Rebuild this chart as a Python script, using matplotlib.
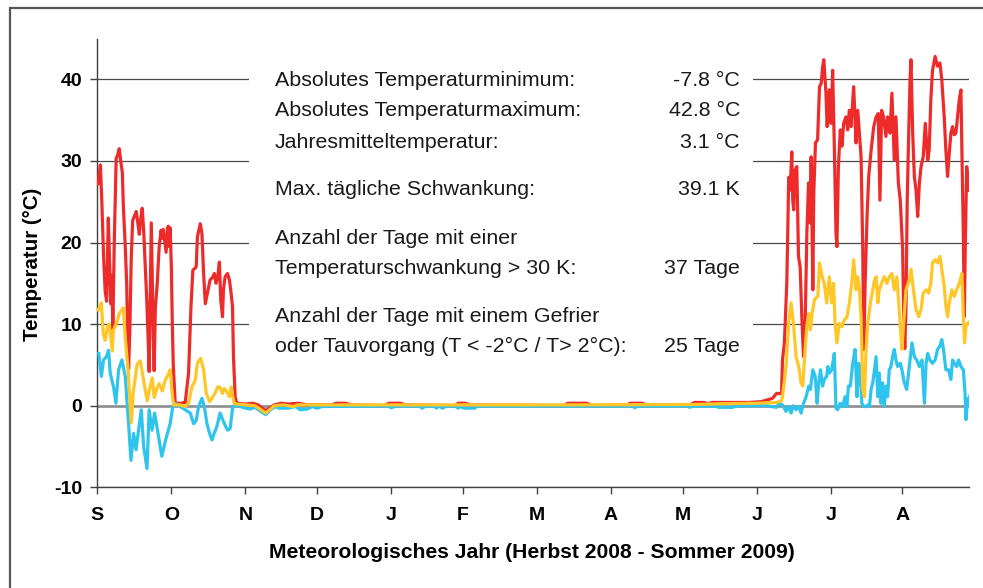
import matplotlib
matplotlib.use("Agg")
import matplotlib.pyplot as plt
from matplotlib.patches import Rectangle

plt.rcParams['font.family'] = ['Liberation Sans', 'DejaVu Sans']

# ---------------- data (day of meteorological year, 0 = 1 Sept 2008) ----------------
red_days = [0.3, 1.3, 1.9, 2.6, 3.3, 3.9, 4.6, 5.2, 5.6, 6.1, 6.5, 7.1, 7.5, 7.9, 8.6, 9.2, 9.8, 10.5, 10.9,
            11.7, 12.3, 12.7, 13.1, 13.6, 14.2, 14.8, 15.5, 16.3, 16.9, 17.6, 18.0, 18.8, 19.4, 20.1, 20.7,
            21.3, 21.7, 22.1, 22.6, 23.0, 23.4, 23.8, 24.3, 25.1, 25.9, 26.7, 27.2, 27.6, 28.4, 28.8, 29.3,
            29.7, 30.1, 30.5, 31.0, 31.4, 31.8, 32.6,
            35.0, 36.8, 38.2, 39.2, 40.0, 41.4, 41.9, 43.1, 43.8, 44.5, 45.2, 46.1, 47.2, 48.4, 49.0, 49.7,
            50.4, 51.1, 51.7, 52.4, 52.8, 53.5, 54.5, 55.3, 56.0, 56.6, 57.0, 57.7, 58.4,
            62, 65, 67.3, 69, 70.5, 72, 74, 77, 80, 84, 88, 98, 100, 104, 106, 120, 122, 127, 129, 150, 151,
            154, 156, 195, 197, 205, 207, 222, 223, 228, 230, 248, 250, 254, 256, 257, 273, 278, 282.6,
            284.3, 286.4,
            286.8, 287.6, 288.6, 289.0, 289.4, 290.0, 290.7, 291.1, 291.5, 292.1, 292.8, 293.5, 294.2, 294.9,
            295.6, 296.3, 297.0, 297.7, 298.4, 298.8, 299.5, 299.9, 300.6, 301.5, 302.3, 303.0, 303.6, 304.1,
            305.0, 305.5, 306.4, 307.1, 307.8, 308.5, 309.2, 309.6, 310.2, 311.0, 311.7, 312.4, 313.4, 314.1,
            314.8, 315.5, 316.6, 317.6, 318.3, 319.0, 319.7, 320.4, 320.8, 321.4, 322.2, 322.9, 323.9, 325.0,
            326.0, 326.9, 327.6, 328.3, 329.1, 330.1, 330.8, 331.8, 332.6, 333.6, 334.3, 335.3, 336.1, 337.1,
            337.6, 338.0, 338.5, 339.0, 339.6, 340.2, 340.6, 341.3, 342.0, 342.7, 343.4, 344.1, 344.8, 345.7,
            346.6, 347.6, 348.2, 348.9, 349.6, 350.7, 351.7, 352.7, 353.5, 354.5, 355.2, 355.9, 356.6, 357.3,
            358.0, 358.7, 359.4, 360.1, 360.8, 361.5, 361.9, 362.5, 362.9, 363.3, 363.9, 364.3, 365.0]
red_vals = [27.2, 29.5, 25.0, 18.5, 14.0, 12.8, 23.0, 17.0, 12.5, 16.0, 9.2, 20.0, 25.0, 30.3, 30.8, 31.5, 30.0,
            28.5, 24.5, 19.5, 15.0, 9.0, 4.5, 9.0, 18.0, 22.7, 23.2, 23.8, 22.5, 21.0, 22.5, 24.2, 21.5, 17.0,
            13.0, 8.0, 4.2, 12.0, 22.4, 16.0, 9.0, 4.3, 12.0, 15.0, 19.5, 21.5, 20.5, 21.6, 19.8, 18.8, 21.5,
            22.0, 19.5, 21.8, 17.0, 10.0, 5.0, 0.3,
            0.3, 0.4, 4.0, 12.1, 16.6, 17.0, 20.7, 22.3, 21.1, 16.2, 12.5, 13.8, 15.4, 15.8, 16.2, 15.0,
            15.8, 17.6, 12.9, 10.9, 14.2, 15.8, 16.2, 15.4, 13.8, 12.1, 6.0, 1.1, 0.3,
            0.2, 0.3, 0.1, -0.3, -0.6, -0.3, 0.1, 0.3, 0.2, 0.3, 0.1, 0.1, 0.3, 0.3, 0.1, 0.0, 0.3, 0.3, 0.1,
            0.0, 0.3, 0.3, 0.1, 0.0, 0.3, 0.3, 0.0, 0.1, 0.3, 0.3, 0.1, 0.1, 0.4, 0.4, 0.2, 0.4, 0.4, 0.5,
            0.9, 1.5, 1.5,
            5.6, 7.7, 15.0, 21.1, 28.0, 26.4, 31.1, 25.2, 24.0, 28.9, 29.3, 18.3, 17.0, 10.9, 6.0, 10.1, 21.1,
            27.3, 22.4, 30.5, 14.2, 26.0, 32.2, 32.6, 39.1, 39.5, 41.5, 42.4, 38.3, 34.2, 38.7, 34.6, 41.1,
            31.8, 21.1, 19.5, 29.3, 33.8, 31.8, 34.6, 35.4, 33.8, 36.2, 34.2, 39.1, 32.2, 36.2, 33.4, 30.5,
            19.1, 6.9, 15.0, 23.2, 28.1, 31.3, 34.2, 35.4, 35.8, 25.2, 36.2, 35.4, 33.0, 35.4, 33.4, 38.3,
            30.1, 35.4, 27.3, 25.2, 19.1, 10.0, 7.0, 12.0, 25.0, 33.0, 40.0, 42.4, 33.4, 28.1, 26.4, 23.2,
            27.3, 29.3, 30.5, 34.6, 30.1, 31.3, 37.5, 41.1, 42.8, 41.6, 42.0, 39.9, 35.4, 31.3, 28.1, 30.9,
            33.4, 34.2, 33.2, 33.4, 35.4, 37.5, 38.7, 31.3, 21.1, 10.9, 19.1, 29.3, 28.1, 26.4]

yellow_days = [0.4, 1.7, 2.5, 3.3, 4.2, 5.0, 6.3, 6.7, 8.4, 9.2, 10.9, 11.7, 13.0, 14.2, 15.1, 16.7, 18.0, 19.2,
               20.9, 21.7, 23.0, 23.8, 25.1, 25.9, 27.2, 28.4, 30.1, 30.5, 31.2, 31.9, 34.7, 36.8, 38.2, 39.6,
               41.0, 41.9, 43.3, 44.5, 45.6, 47.0, 48.4, 49.2, 50.4, 51.3, 52.4, 53.1, 54.2, 55.3, 56.0, 56.7,
               57.3, 58.4, 62, 66, 68, 70.5, 72.5, 74, 78, 82, 84, 100, 150, 200, 250, 262, 275, 280, 284.3,
               286.4, 286.8, 288.3, 289.4, 290.4, 291.4, 292.5, 293.6, 294.6, 295.3, 296.3, 297.0, 297.8,
               298.5, 299.2, 300.2, 301.6, 302.3, 303.4, 304.3, 305.3, 306.4, 307.4, 308.2, 308.8, 309.6,
               310.6, 311.7, 312.7, 313.8, 314.8, 315.8, 316.6, 317.6, 318.3, 319.0, 319.7, 320.4, 321.1,
               321.8, 322.5, 323.6, 324.6, 325.3, 326.0, 326.7, 327.3, 328.3, 329.4, 330.5, 331.5, 332.6,
               333.6, 334.7, 335.7, 336.8, 337.4, 338.5, 339.9, 340.6, 341.6, 342.7, 343.8, 344.8, 345.7,
               346.9, 348.0, 348.9, 349.6, 350.7, 351.7, 352.7, 353.5, 354.5, 355.2, 355.9, 356.6, 357.7,
               358.7, 359.7, 360.8, 361.9, 362.5, 363.0, 363.6, 364.3, 365.0]
yellow_vals = [11.7, 12.6, 8.8, 8.0, 9.6, 10.0, 6.7, 9.2, 10.4, 11.3, 12.0, 8.3, 3.9, -2.1, 1.8, 5.1, 5.5, 3.4,
               0.6, 1.8, 3.4, 1.0, 2.2, 2.7, 1.8, 3.1, 4.1, 4.4, 1.9, 0.1, 0.1, -0.1, 0.3, 2.3,
               3.1, 5.2, 5.8, 4.4, 1.5, 0.5, 1.1, 1.5, 2.3, 2.3, 1.5, 2.1, 1.7, 1.1, 2.3, 1.1,
               0.3, 0.2, 0.1, 0.0, -0.4, -0.9, -0.4, 0.0, 0.1, -0.1, 0.1, 0.1, 0.1, 0.1, 0.15, 0.25, 0.3, 0.35,
               0.4, 0.6, 1.1, 4.8, 10.1, 12.6, 10.1, 6.0, 4.8, 2.8, 2.4, 6.9, 9.7, 11.3,
               9.3, 11.3, 13.0, 13.4, 17.5, 15.8, 15.0, 12.6, 15.8, 12.6, 15.0, 10.1, 7.7,
               10.1, 9.7, 10.5, 10.9, 12.6, 15.0, 17.9, 14.2, 15.8, 14.2, 10.9, 2.0, 1.1,
               6.9, 10.1, 12.6, 14.2, 15.4, 15.8, 12.6, 14.2, 15.0, 15.8, 15.0, 15.8, 16.2,
               14.2, 15.8, 11.5, 6.9, 9.7, 14.2, 15.4, 16.7, 14.2, 11.8, 10.9, 11.8, 13.8,
               14.2, 13.8, 15.0, 17.5, 17.9, 17.5, 18.3, 16.7, 14.6, 12.2, 10.9, 12.6, 14.2,
               13.4, 14.2, 15.0, 16.2, 10.9, 7.7, 9.7, 10.1, 10.3]

blue_days = [0.6, 1.7, 2.6, 3.8, 4.7, 5.4, 6.8, 7.8, 8.9, 10.3, 11.7, 13.1, 14.1, 15.2, 16.2, 17.3, 18.4, 19.4,
             20.8, 21.7, 22.9, 24.0, 25.4, 27.0, 28.6, 30.5, 31.6, 32.6, 34.7, 36.8, 38.9, 40.3, 41.4, 42.4,
             43.8, 44.8, 45.9, 47.0, 48.0, 48.9, 50.0, 51.4, 52.6, 53.5, 54.5, 55.6, 56.7, 57.7, 59.8, 61.9,
             64, 66, 68, 70.5, 72.5, 74.5, 76, 80, 83, 85, 88, 90, 92, 94, 122, 123, 125, 135, 136, 137.5,
             141, 142, 143, 144.5, 146, 150, 151, 152, 153.5, 158, 159, 224, 225, 226, 247, 248, 249, 259,
             260, 266, 267, 273, 280, 284.3, 285.5, 286.8, 288.3, 289.4, 290.4, 291.4, 292.5, 293.6, 294.6,
             295.6, 296.7, 297.8, 298.5, 299.5, 300.5, 301.3, 302.0, 302.7, 303.6, 304.3, 305.3, 305.8,
             306.4, 307.4, 308.5, 309.2, 309.9, 311.0, 312.0, 313.0, 313.8, 314.4, 315.2, 316.2, 317.2,
             318.0, 318.7, 319.4, 320.0, 320.8, 321.8, 322.5, 323.2, 323.9, 324.6, 325.3, 326.0, 326.7,
             327.3, 328.0, 328.7, 329.4, 330.1, 330.8, 331.5, 332.2, 332.9, 333.6, 334.3, 335.0, 336.1,
             336.8, 337.8, 338.8, 339.9, 341.0, 342.0, 343.0, 344.1, 345.2, 346.2, 346.9, 347.6, 348.5,
             349.6, 350.7, 351.7, 352.7, 353.5, 354.2, 355.2, 356.3, 357.3, 358.0, 358.7, 359.7, 360.5,
             361.5, 362.5, 363.2, 363.6, 364.3, 365.0]
blue_vals = [6.4, 3.6, 5.6, 6.0, 6.8, 4.0, 2.3, 0.3, 4.4, 5.6, 3.6, -2.2, -6.7, -3.4, -5.4, -3.0, -0.5, -5.0,
             -7.7, -0.5, -3.0, -0.9, -3.4, -6.2, -4.2, -2.2, -0.1, 0.3, -0.1, -0.5, -0.9, -2.2, -1.8, -0.1,
             0.9, -0.1, -2.2, -3.4, -4.2, -3.4, -2.6, -0.9, -1.8, -2.4, -3.0, -2.8, -0.1, 0.1, -0.1, -0.3,
             -0.4, -0.2, -0.6, -1.1, -0.5, -0.1, -0.3, -0.3, -0.1, -0.5, -0.4, -0.1, -0.3, -0.1, -0.05, -0.25,
             -0.05, -0.05, -0.3, -0.05, -0.05, -0.3, -0.05, -0.3, -0.05, -0.05, -0.3, -0.1, -0.3, -0.3, -0.05,
             -0.05, -0.25, -0.05, -0.05, -0.2, -0.05, -0.05, -0.2, -0.2, -0.05, 0.0, 0.0, -0.2, 0.3, 0.1,
             -0.7, -0.1, -0.9, 0.0, -0.5, -0.1, -0.9, 0.3, 1.1, 2.4, 2.0, 4.4, 3.6, 0.3, 2.8, 4.4, 2.4, 3.2,
             3.6, 4.8, 4.0, 4.4, 6.4, -0.3, -0.5, 0.3, -0.1, 1.1, -0.1, 2.4, 2.4, 5.2, 6.9, 1.1, 5.2, 4.0,
             0.3, -0.1, -0.1, 0.1, -0.1, 2.0, 2.8, 4.4, 6.0, 1.1, 4.0, 0.3, 2.8, -0.1, 2.4, 1.1, 4.4, 4.8,
             6.0, 6.9, 5.6, 4.8, 5.2, 4.4, 2.8, 2.0, 4.8, 7.7, 6.0, 5.6, 4.8, 5.6, 0.3, 5.2, 6.4, 5.6, 5.2,
             5.6, 6.9, 7.3, 8.1, 6.9, 4.4, 4.4, 3.2, 5.6, 5.2, 4.8, 5.6, 4.8, 4.4, 1.6, -1.7, 0.7, 1.1]

month_ticks = [0, 31, 62, 92, 123, 153, 184, 215, 245, 276, 307, 337]
month_labels = ['S', 'O', 'N', 'D', 'J', 'F', 'M', 'A', 'M', 'J', 'J', 'A']
y_ticks = [-10, 0, 10, 20, 30, 40]

stat_labels = ["Absolutes Temperaturminimum:", "Absolutes Temperaturmaximum:", "Jahresmitteltemperatur:",
               "Max. tägliche Schwankung:", "Anzahl der Tage mit einer", "Temperaturschwankung > 30 K:",
               "Anzahl der Tage mit einem Gefrier", "oder Tauvorgang (T < -2°C / T> 2°C):"]
stat_values = ["-7.8 °C", "42.8 °C", "3.1 °C", "39.1 K", "", "37 Tage", "", "25 Tage"]
stat_baselines_px = [86.5, 116.5, 147.5, 194.5, 244.5, 274.5, 322.5, 352.5]

# ---------------- figure ----------------
W, H = 983, 588
fig = plt.figure(figsize=(W / 100, H / 100), dpi=100)
fig.patch.set_facecolor('white')

# outer frame (only top and left edges fall inside the picture)
fig.patches.append(Rectangle((10 / W, -0.2), 1.2, 1.2 - 8 / H, transform=fig.transFigure,
                             fill=False, edgecolor='#555555', linewidth=1.6, zorder=0))

ax = fig.add_axes([97.3 / W, 1 - 487.3 / H, 872 / W, (487.3 - 38.5) / H])
ax.set_xlim(0, 365)
ax.set_ylim(-10, 45)
ax.set_facecolor('none')

ax.set_axisbelow(True)
ax.yaxis.grid(True, color='#4a4a4a', linewidth=0.9)
ax.xaxis.grid(False)
ax.axhline(0, color='#8c8c8c', linewidth=1.8, zorder=2.5)

# white text box hiding gridlines
ax.add_patch(Rectangle((249 / W, 1 - 372 / H), 504 / W, (372 - 50) / H, transform=fig.transFigure,
                       facecolor='white', edgecolor='none', zorder=1))

ax.plot(red_days, red_vals, color='#EE2B2B', linewidth=2.3, zorder=3, solid_joinstyle='round')
ax.plot(blue_days, blue_vals, color='#2EC4EE', linewidth=2.3, zorder=4, solid_joinstyle='round')
ax.plot(yellow_days, yellow_vals, color='#FFC627', linewidth=2.3, zorder=5, solid_joinstyle='round')

for s in ['top', 'right']:
    ax.spines[s].set_visible(False)
for s in ['left', 'bottom']:
    ax.spines[s].set_color('#404040')
    ax.spines[s].set_linewidth(1.0)

ax.set_yticks(y_ticks)
ax.set_yticklabels([str(v) for v in y_ticks])
ax.set_xticks(month_ticks)
ax.set_xticklabels(month_labels)
ax.tick_params(axis='y', direction='out', length=5, width=1, color='#404040', pad=6,
               labelsize=14, labelcolor='black')
ax.tick_params(axis='x', direction='out', length=5, width=1, color='#404040', pad=9,
               labelsize=14, labelcolor='black')
for lab in ax.get_xticklabels() + ax.get_yticklabels():
    lab.set_fontweight('bold')

fig.text(33 / W, 1 - 264 / H, "Temperatur (°C)", rotation=90, ha='center', va='center',
         fontsize=14.8, fontweight='bold', color='black')
fig.text(532 / W, 1 - 558 / H, "Meteorologisches Jahr (Herbst 2008 - Sommer 2009)", ha='center',
         va='baseline', fontsize=15.2, fontweight='bold', color='black')

for lab, val, b in zip(stat_labels, stat_values, stat_baselines_px):
    fig.text(275 / W, 1 - b / H, lab, ha='left', va='baseline', fontsize=15.4, color='#1a1a1a')
    if val:
        fig.text(740 / W, 1 - b / H, val, ha='right', va='baseline', fontsize=15.4, color='#1a1a1a')

fig.savefig('out.png', dpi=100, facecolor='white')
